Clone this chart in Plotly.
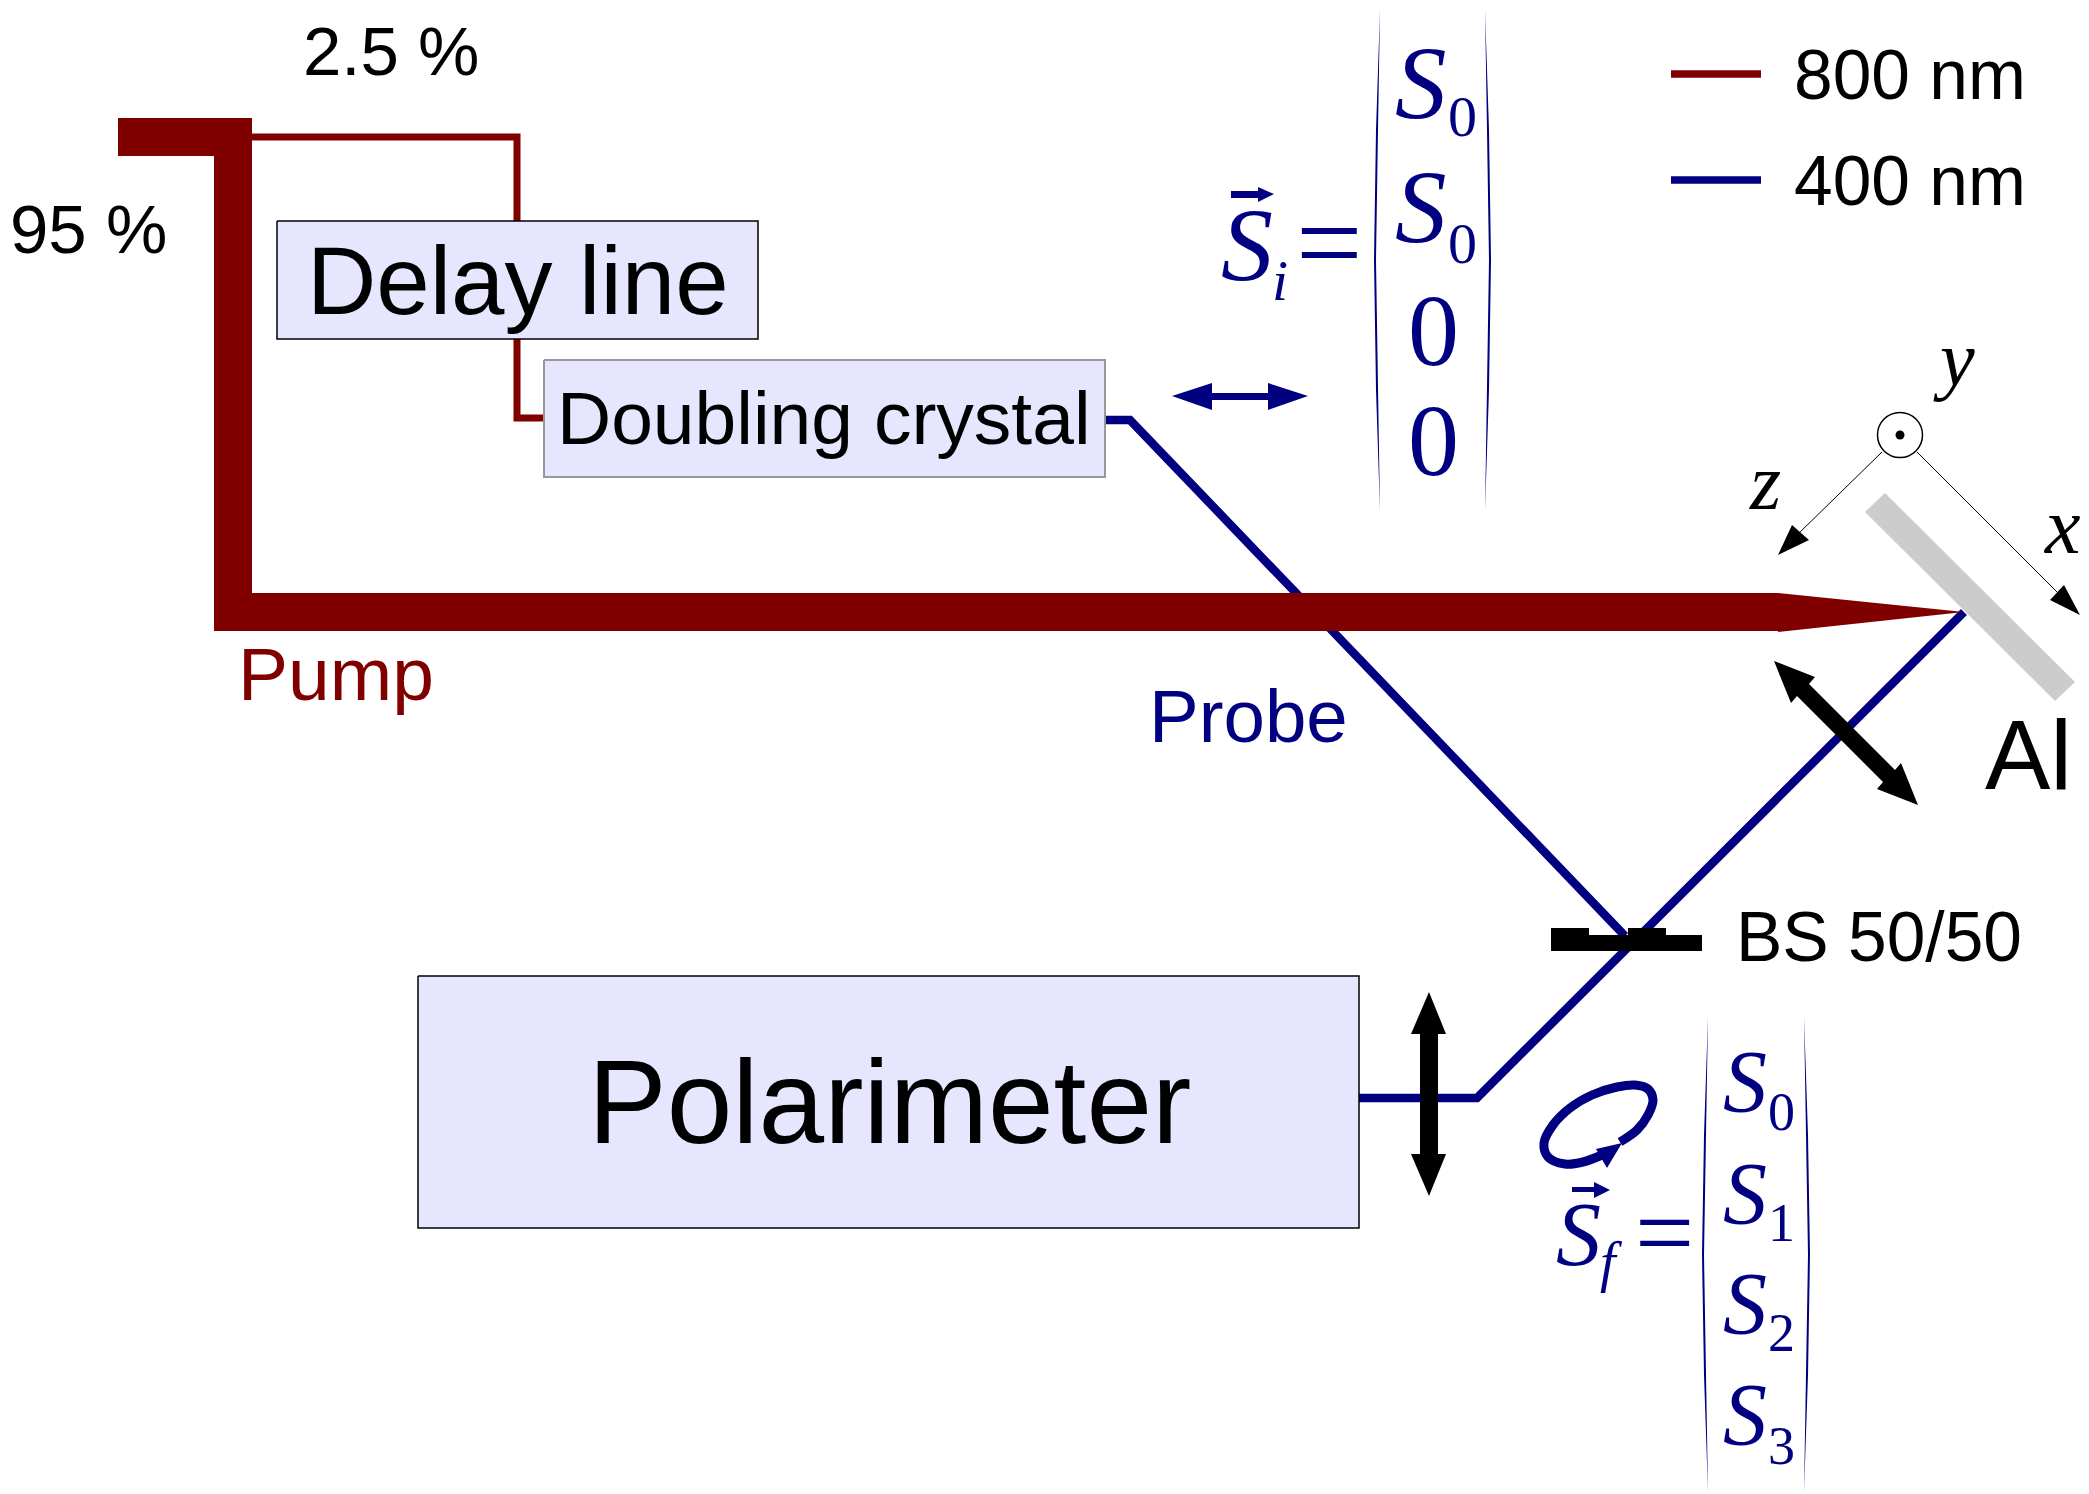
import plotly.graph_objects as go

RED = "#800000"
NAVY = "#000080"
BLACK = "#000000"
LAVENDER = "#e6e6ff"
GREY = "#cccccc"

W, H = 2089, 1494

# ---- beam paths (open lines)
probe_in_x = [1105, 1130, 1625]
probe_in_y = [420, 420, 936]
probe_out_x = [1964, 1477, 1359]
probe_out_y = [612, 1098, 1098]
weak_beam_x = [252, 517, 517, 544]
weak_beam_y = [137, 137, 418, 418]
legend_red_x = [1671, 1761]
legend_red_y = [74, 74]
legend_blue_x = [1671, 1761]
legend_blue_y = [180, 180]
axis_z_x = [1882, 1795]
axis_z_y = [452, 537]
axis_x_x = [1917, 2063]
axis_x_y = [452, 598]
ellipse_x = [1620, 1637, 1648, 1653, 1648, 1635, 1617, 1592, 1570, 1553, 1544, 1548, 1565, 1583, 1602]
ellipse_y = [1142, 1130, 1115, 1100, 1089, 1085, 1087, 1095, 1108, 1125, 1143, 1157, 1164, 1162, 1155]

# ---- filled outlines
pump_x = [118, 252, 252, 1778, 1964, 1778, 1778, 214, 214, 118]
pump_y = [118, 118, 593, 593, 612, 632, 631, 631, 156, 156]
mirror_x = [1885, 1865, 2055, 2075]
mirror_y = [493, 512, 701, 682]
bs_x = [1551, 1589, 1589, 1628, 1628, 1666, 1666, 1702, 1702, 1551]
bs_y = [928, 928, 935, 935, 928, 928, 935, 935, 951, 951]
delay_box_x = [277, 758, 758, 277]
delay_box_y = [221, 221, 339, 339]
crystal_box_x = [544, 1105, 1105, 544]
crystal_box_y = [360, 360, 477, 477]
polarimeter_box_x = [418, 1359, 1359, 418]
polarimeter_box_y = [976, 976, 1228, 1228]
polar_in_x = [1172, 1212, 1212, 1268, 1268, 1308, 1268, 1268, 1212, 1212]
polar_in_y = [396, 383, 393, 393, 383, 396, 410, 400, 400, 410]
polar_pump_x = [1774, 1815, 1809, 1895, 1901, 1918, 1877, 1883, 1797, 1791]
polar_pump_y = [661, 677, 684, 770, 763, 805, 789, 782, 696, 703]
polar_out_x = [1429, 1446, 1438, 1438, 1446, 1429, 1411, 1420, 1420, 1411]
polar_out_y = [992, 1034, 1034, 1154, 1154, 1196, 1154, 1154, 1034, 1034]
head_z_x = [1778, 1792, 1809]
head_z_y = [555, 525, 540]
head_x_x = [2080, 2064, 2050]
head_x_y = [615, 585, 600]
head_ellipse_x = [1596, 1622, 1607]
head_ellipse_y = [1149, 1143, 1168]
vec_i_x = [1231, 1258, 1258, 1274, 1258, 1258, 1231]
vec_i_y = [191, 191, 187, 194, 202, 198, 198]
vec_f_x = [1572, 1594, 1594, 1610, 1594, 1594, 1572]
vec_f_y = [1187, 1187, 1182, 1190, 1198, 1192, 1192]
paren_il_x = [1380, 1376, 1374, 1376, 1380, 1378, 1376, 1378]
paren_il_y = [9, 130, 260, 390, 512, 390, 260, 130]
paren_ir_x = [1485, 1489, 1491, 1489, 1485, 1487, 1489, 1487]
paren_ir_y = [9, 130, 260, 390, 512, 390, 260, 130]
paren_fl_x = [1708, 1704, 1702, 1704, 1708, 1706, 1704, 1706]
paren_fl_y = [1016, 1135, 1255, 1375, 1493, 1375, 1255, 1135]
paren_fr_x = [1804, 1808, 1810, 1808, 1804, 1806, 1808, 1806]
paren_fr_y = [1016, 1135, 1255, 1375, 1493, 1375, 1255, 1135]

# ---- sample normal symbol
normal_x = [1900]
normal_y = [435]

# ---- sans-serif labels
sans_text = ["2.5 %", "95 %", "Delay line", "Doubling crystal", "Pump", "Probe",
             "800 nm", "400 nm", "Al", "BS 50/50", "Polarimeter"]
sans_x = [391, 88, 518, 824, 336, 1248, 1910, 1910, 2028, 1879, 889]
sans_y = [51, 229, 280, 418, 674, 716, 75, 181, 755, 937, 1102]
sans_size = [69, 69, 96, 75, 75, 74.5, 69.5, 69.5, 98, 69.5, 118]
sans_color = [BLACK, BLACK, BLACK, BLACK, RED, NAVY, BLACK, BLACK, BLACK, BLACK, BLACK]

# ---- serif labels
serif_text = ["<i>S</i>", "<i>i</i>", "=",
              "<i>S</i>", "0", "<i>S</i>", "0", "0", "0",
              "<i>y</i>", "<i>z</i>", "<i>x</i>",
              "<i>S</i>", "<i>f</i>", "=",
              "<i>S</i>", "0", "<i>S</i>", "1", "<i>S</i>", "2", "<i>S</i>", "3"]
serif_x = [1247, 1280, 1329,
           1421, 1462, 1421, 1462, 1433, 1433,
           1954, 1765, 2062,
           1578, 1611, 1664,
           1745, 1781, 1745, 1781, 1745, 1781, 1745, 1781]
serif_y = [244, 280, 243,
           83, 116, 207, 243, 330, 440,
           358, 482, 526,
           1234, 1262, 1232,
           1081, 1112, 1193, 1223, 1303, 1333, 1414, 1446]
serif_size = [104, 58, 118,
              103, 58, 103, 58, 102, 102,
              78, 80, 80,
              90, 56, 105,
              88, 54, 88, 54, 88, 54, 88, 54]
serif_color = [NAVY] * 9 + [BLACK] * 3 + [NAVY] * 11

fig = go.Figure()


def line(xs, ys, color, width, shape="linear"):
    fig.add_trace(go.Scatter(x=xs, y=ys, mode="lines", hoverinfo="skip",
                             line=dict(color=color, width=width, shape=shape)))


def poly(xs, ys, fill, edge=None, edge_width=0):
    fig.add_trace(go.Scatter(x=xs + xs[:1], y=ys + ys[:1], mode="lines", fill="toself",
                             fillcolor=fill, hoverinfo="skip",
                             line=dict(color=edge or fill, width=edge_width)))


line(weak_beam_x, weak_beam_y, RED, 7)
line(probe_in_x, probe_in_y, NAVY, 8.5)
line(probe_out_x, probe_out_y, NAVY, 8.5)
poly(pump_x, pump_y, RED)
poly(mirror_x, mirror_y, GREY)
poly(delay_box_x, delay_box_y, LAVENDER, BLACK, 1.5)
poly(crystal_box_x, crystal_box_y, LAVENDER, "#999999", 2)
poly(polarimeter_box_x, polarimeter_box_y, LAVENDER, BLACK, 1.5)
poly(bs_x, bs_y, BLACK)
poly(polar_in_x, polar_in_y, NAVY)
poly(polar_pump_x, polar_pump_y, BLACK)
poly(polar_out_x, polar_out_y, BLACK)
line(legend_red_x, legend_red_y, RED, 7.5)
line(legend_blue_x, legend_blue_y, NAVY, 7.5)
line(axis_z_x, axis_z_y, BLACK, 1)
line(axis_x_x, axis_x_y, BLACK, 1)
poly(head_z_x, head_z_y, BLACK)
poly(head_x_x, head_x_y, BLACK)
line(ellipse_x, ellipse_y, NAVY, 9, "spline")
poly(head_ellipse_x, head_ellipse_y, NAVY)
poly(vec_i_x, vec_i_y, NAVY)
poly(vec_f_x, vec_f_y, NAVY)
poly(paren_il_x, paren_il_y, NAVY)
poly(paren_ir_x, paren_ir_y, NAVY)
poly(paren_fl_x, paren_fl_y, NAVY)
poly(paren_fr_x, paren_fr_y, NAVY)
fig.add_trace(go.Scatter(x=normal_x, y=normal_y, mode="markers", hoverinfo="skip",
                         marker=dict(size=45, color="white", line=dict(color=BLACK, width=1.5))))
fig.add_trace(go.Scatter(x=normal_x, y=normal_y, mode="markers", hoverinfo="skip",
                         marker=dict(size=9, color=BLACK)))

for t, x, y, s, c in zip(sans_text, sans_x, sans_y, sans_size, sans_color):
    fig.add_annotation(x=x, y=y, text=t, showarrow=False, xanchor="center", yanchor="middle",
                       font=dict(family="Liberation Sans", size=s, color=c))
for t, x, y, s, c in zip(serif_text, serif_x, serif_y, serif_size, serif_color):
    fig.add_annotation(x=x, y=y, text=t, showarrow=False, xanchor="center", yanchor="middle",
                       font=dict(family="Liberation Serif", size=s, color=c))

fig.update_layout(
    width=W, height=H, margin=dict(l=0, r=0, t=0, b=0),
    paper_bgcolor="white", plot_bgcolor="white", showlegend=False,
    xaxis=dict(range=[0, W], visible=False, fixedrange=True),
    yaxis=dict(range=[H, 0], visible=False, fixedrange=True),
)
fig.write_html("out.html", config=dict(displayModeBar=False),
               post_script="document.body.style.margin='0';document.body.style.overflow='hidden';")
